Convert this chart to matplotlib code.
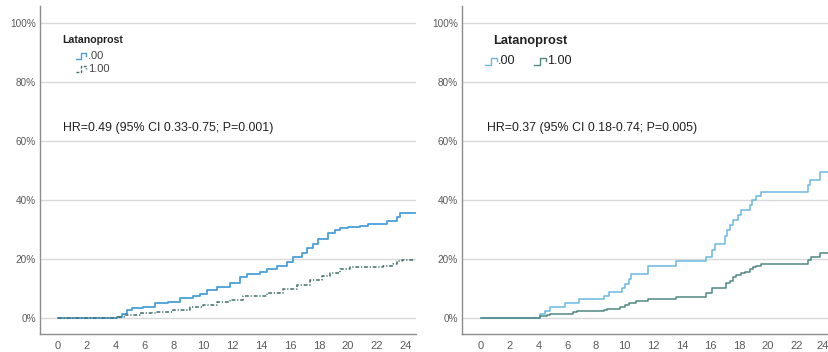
import matplotlib
matplotlib.use("Agg")
import matplotlib.pyplot as plt
import matplotlib.transforms as mtransforms
from matplotlib.lines import Line2D

plt.rcParams['font.family'] = ['Liberation Sans', 'DejaVu Sans']

# Cumulative incidence (%) over follow-up, two cohorts
time_left_00 = [0, 4.05, 4.39, 4.73, 5.08, 5.89, 6.69, 7.61, 8.41, 9.33, 9.79, 10.25,
                10.94, 11.86, 12.55, 13.01, 13.93, 14.39, 15.08, 15.77, 16.23, 16.8,
                17.15, 17.61, 17.95, 18.64, 19.1, 19.45, 20.02, 20.83, 21.4, 22.67,
                23.36, 23.59, 24.6]
inc_left_00 = [0, 0.5, 1.4, 2.7, 3.3, 3.8, 5.0, 5.5, 6.7, 7.5, 8.1, 9.5,
               10.6, 12.0, 13.8, 14.9, 15.7, 16.5, 17.7, 19.1, 20.6, 21.9,
               23.6, 25.1, 26.7, 28.7, 29.8, 30.4, 30.9, 31.3, 31.9, 33.0,
               34.4, 35.5, 35.5]

time_left_10 = [0, 4.16, 4.62, 5.65, 6.8, 7.95, 9.1, 10.02, 10.94, 11.86, 12.78, 14.39,
                15.54, 16.46, 17.38, 18.18, 18.76, 19.45, 20.14, 22.44, 23.13, 23.36,
                23.7, 24.6]
inc_left_10 = [0, 0.4, 1.0, 1.6, 2.1, 2.9, 3.6, 4.4, 5.4, 6.1, 7.5, 8.4,
               9.7, 11.2, 12.9, 14.2, 15.4, 16.5, 17.2, 17.7, 18.5, 19.4,
               19.8, 19.8]

time_right_00 = [0, 4.1, 4.45, 4.8, 5.84, 6.84, 8.6, 8.93, 9.8, 10.02, 10.32, 10.48,
                 11.64, 13.6, 15.68, 16.12, 16.28, 16.97, 17.13, 17.32, 17.55, 17.9,
                 18.13, 18.71, 18.9, 19.13, 19.53, 22.77, 22.9, 23.58, 24.24]
inc_right_00 = [0, 1.25, 2.5, 3.8, 5.0, 6.3, 7.5, 8.8, 10.1, 11.4, 13.4, 15.1,
                17.7, 19.3, 20.6, 23.0, 25.1, 27.8, 29.8, 31.5, 33.2, 34.9,
                36.6, 38.3, 40.0, 41.4, 42.6, 45.0, 46.8, 49.4, 49.4]

time_right_10 = [0, 4.1, 4.6, 4.8, 6.4, 6.7, 8.55, 8.8, 9.7, 10.0, 10.3, 10.8,
                 11.64, 13.6, 15.65, 16.1, 17.09, 17.32, 17.55, 17.79, 18.13, 18.37,
                 18.71, 18.94, 19.18, 19.53, 22.77, 23.0, 23.58, 24.24]
inc_right_10 = [0, 0.6, 1.1, 1.4, 2.0, 2.3, 2.7, 3.2, 3.8, 4.3, 5.1, 5.8,
                6.4, 7.3, 8.4, 10.1, 11.8, 12.7, 13.8, 14.6, 15.4, 15.7,
                16.5, 17.2, 17.6, 18.3, 19.7, 20.6, 21.9, 21.9]

x_ticks = list(range(0, 25, 2))
y_ticks = [0, 20, 40, 60, 80, 100]
y_tick_labels = ["0%", "20%", "40%", "60%", "80%", "100%"]
legend_title = "Latanoprost"
group_labels = [".00", "1.00"]
hr_left = "HR=0.49 (95% CI 0.33-0.75; P=0.001)"
hr_right = "HR=0.37 (95% CI 0.18-0.74; P=0.005)"

W, H = 829, 352
fig = plt.figure(figsize=(W / 100, H / 100), dpi=100)


def fx(px):
    return px / W


def fy(py):
    return 1 - py / H


def make_axes(left_px, right_px, xlim):
    ax = fig.add_axes([fx(left_px), fy(334), (right_px - left_px) / W, 328 / H])
    ax.set_xlim(*xlim)
    ax.set_ylim(-5.4, 105.8)
    ax.set_xticks(x_ticks)
    ax.set_yticks(y_ticks)
    ax.set_yticklabels(y_tick_labels)
    ax.tick_params(length=0, colors="#5a5a5a")
    ax.tick_params(axis="x", pad=5, labelsize=8)
    ax.tick_params(axis="y", pad=3, labelsize=7.2)
    for s in ("top", "right"):
        ax.spines[s].set_visible(False)
    for s in ("left", "bottom"):
        ax.spines[s].set_color("#8c8c8c")
        ax.spines[s].set_linewidth(1.0)
    for yv in y_ticks:
        ax.axhline(yv, color="#d9d9d9", lw=1.0, zorder=0)
    return ax


ax1 = make_axes(40, 416, (-1.24, 24.69))
ax2 = make_axes(462, 829, (-1.32, 24.24))

# The last tick label of the right panel sits at the figure edge; keep it inside
last_lbl = ax2.get_xticklabels()[-1]
last_lbl.set_horizontalalignment("right")
last_lbl.set_transform(last_lbl.get_transform() +
                       mtransforms.ScaledTranslation(0.03, 0, fig.dpi_scale_trans))

c_blue_l = "#4a9fdc"
c_green_l = "#3f6f68"
c_blue_r = "#6ab8e2"
c_green_r = "#4f8882"

ax1.step(time_left_00, inc_left_00, where="post", color=c_blue_l, lw=1.3)
ax1.step(time_left_10, inc_left_10, where="post", color=c_green_l, lw=1.1,
         dashes=(2.5, 1.2, 0.8, 1.2))
ax2.step(time_right_00, inc_right_00, where="post", color=c_blue_r, lw=1.1)
ax2.step(time_right_10, inc_right_10, where="post", color=c_green_r, lw=1.1)

# Hazard ratio annotations
fig.text(fx(63), fy(128), hr_left, fontsize=8.9, color="#222222", va="center")
fig.text(fx(487), fy(128), hr_right, fontsize=8.9, color="#222222", va="center")


def step_icon(x0, yc, w, h, color, **kw):
    xs = [x0, x0 + 0.45 * w, x0 + 0.45 * w, x0 + 0.85 * w, x0 + 0.85 * w]
    ys = [yc + h / 2, yc + h / 2, yc - h / 2, yc - h / 2, yc]
    fig.add_artist(Line2D([fx(v) for v in xs], [fy(v) for v in ys],
                          color=color, lw=1.0, transform=fig.transFigure, **kw))


# Left legend (stacked)
fig.text(fx(62), fy(40), legend_title, fontsize=7.6, fontweight="bold",
         color="#222222", va="center")
step_icon(76, 56, 12, 6, c_blue_l)
fig.text(fx(88), fy(56), group_labels[0], fontsize=8, color="#444444", va="center")
step_icon(76, 69, 12, 6, c_green_l, dashes=(2, 1.2))
fig.text(fx(88), fy(69), group_labels[1], fontsize=8, color="#444444", va="center")

# Right legend (horizontal)
fig.text(fx(493), fy(41), legend_title, fontsize=9.3, fontweight="bold",
         color="#222222", va="center")
step_icon(485, 61, 14, 7, c_blue_r)
fig.text(fx(498), fy(61), group_labels[0], fontsize=9.1, color="#222222", va="center")
step_icon(534, 61, 14, 7, c_green_r)
fig.text(fx(547), fy(61), group_labels[1], fontsize=9.1, color="#222222", va="center")

fig.savefig("out.png", dpi=100)
